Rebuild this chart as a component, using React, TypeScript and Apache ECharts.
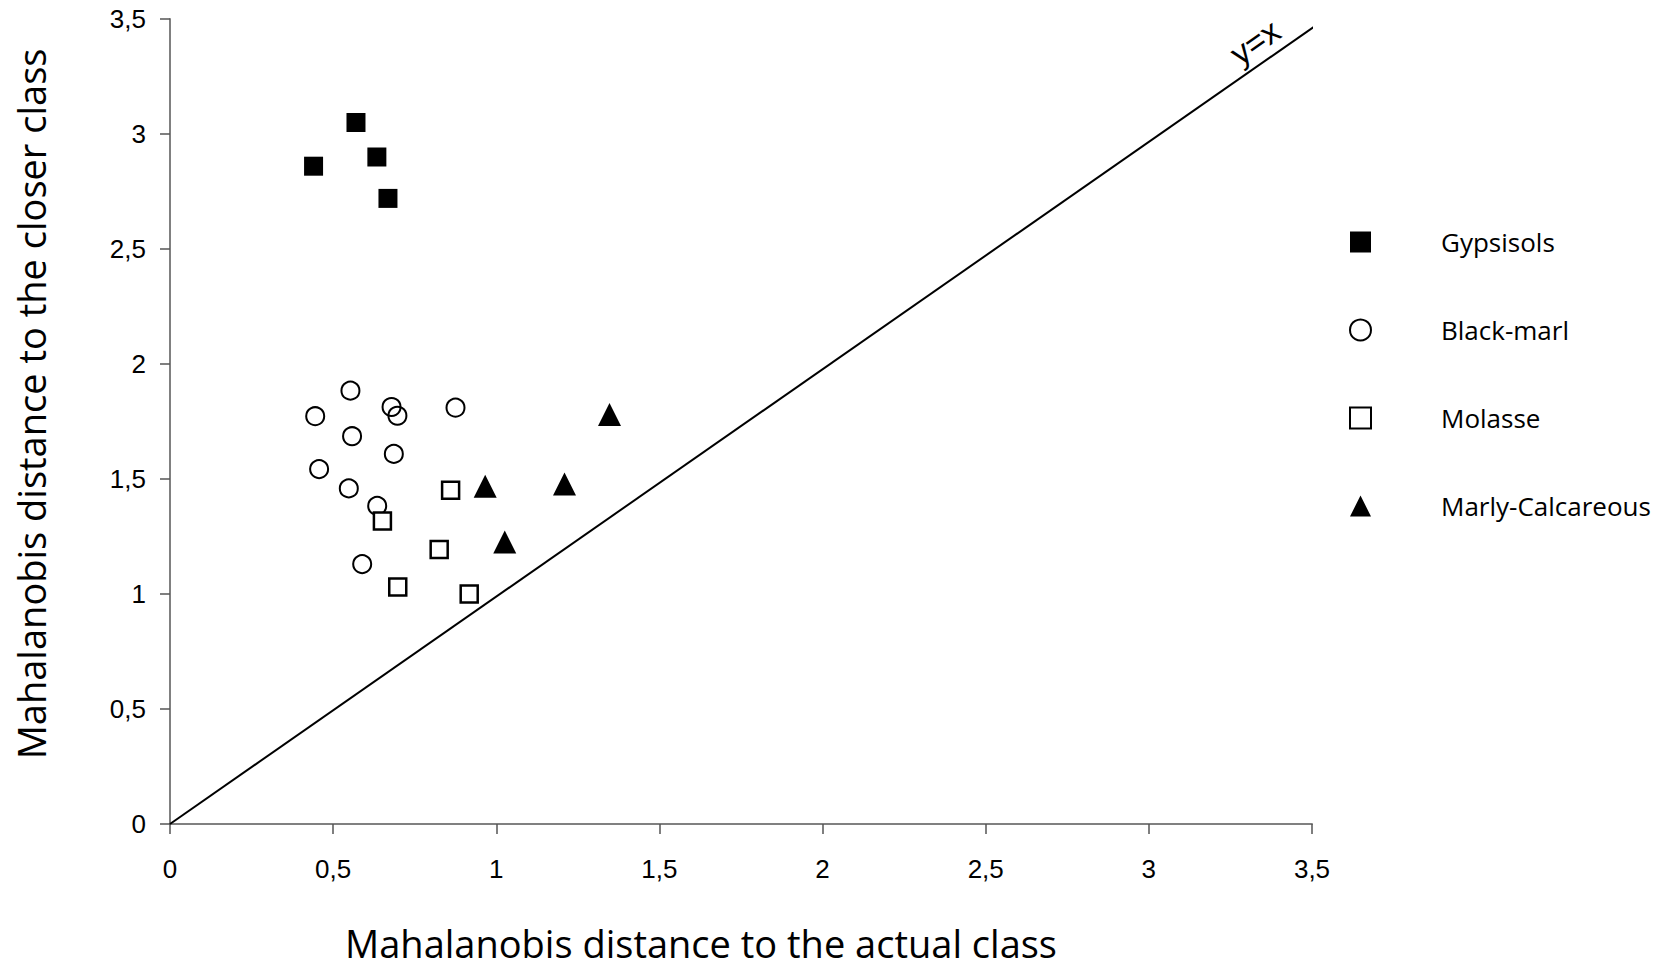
import { useEffect, useRef } from "react";
import * as echarts from "echarts";

// [actual class distance, closer class distance]
const gypsisols = [
  [0.44, 2.86],
  [0.57, 3.05],
  [0.634, 2.9],
  [0.668, 2.72],
];

const blackMarl = [
  [0.553, 1.884],
  [0.445, 1.773],
  [0.679, 1.813],
  [0.697, 1.775],
  [0.875, 1.81],
  [0.558, 1.686],
  [0.686, 1.609],
  [0.457, 1.543],
  [0.548, 1.459],
  [0.635, 1.383],
  [0.589, 1.13],
];

const molasse = [
  [0.86, 1.451],
  [0.651, 1.317],
  [0.825, 1.193],
  [0.698, 1.03],
  [0.917, 1.0],
];

const marlyCalcareous = [
  [0.966, 1.469],
  [1.209, 1.478],
  [1.026, 1.226],
  [1.347, 1.78],
];

const identityLine = [
  [0, 0],
  [3.515, 3.475],
];

const seriesNames = ["Gypsisols", "Black-marl", "Molasse", "Marly-Calcareous"];
const xTitle = "Mahalanobis distance to the actual class";
const yTitle = "Mahalanobis distance to the closer class";

const titleFont = "'Open Sans', sans-serif";
const tickFont = "'Liberation Sans', Arial, sans-serif";

export default function App() {
  const chartRef = useRef<HTMLDivElement>(null);

  useEffect(() => {
    document.body.style.margin = "0";
    if (!chartRef.current) return;
    const chart = echarts.init(chartRef.current, null, { renderer: "svg" });

    const axisCommon = {
      type: "value" as const,
      min: 0,
      max: 3.5,
      interval: 0.5,
      splitLine: { show: false },
      axisLine: { show: true, lineStyle: { color: "#808080", width: 2 } },
      axisTick: { show: true, inside: false, length: 10, lineStyle: { color: "#555", width: 1.5 } },
    };

    const fmt = (v: number) => String(v).replace(".", ",");

    const titleStyle = {
      fontFamily: titleFont,
      fontSize: 38,
      fill: "#000",
      align: "center",
      verticalAlign: "middle",
    };

    chart.setOption({
      animation: false,
      backgroundColor: "#fff",
      grid: {
        left: 170,
        right: 352,
        top: 19,
        bottom: 145,
        containLabel: false,
        outerBoundsMode: "none",
      },
      xAxis: {
        ...axisCommon,
        axisLabel: { formatter: fmt, fontFamily: tickFont, fontSize: 26, color: "#000", margin: 32 },
      },
      yAxis: {
        ...axisCommon,
        axisLabel: { formatter: fmt, fontFamily: tickFont, fontSize: 26, color: "#000", margin: 24 },
      },
      legend: {
        data: seriesNames,
        orient: "vertical",
        left: 1344,
        top: 224,
        itemWidth: 21,
        itemHeight: 21,
        itemGap: 62,
        textStyle: { fontFamily: titleFont, fontSize: 26, color: "#000", padding: [0, 0, 0, 65] },
      },
      graphic: [
        {
          type: "text",
          x: 701,
          y: 943,
          style: { ...titleStyle, text: xTitle },
        },
        {
          type: "text",
          x: 31,
          y: 404,
          rotation: Math.PI / 2,
          style: { ...titleStyle, text: yTitle },
        },
        {
          type: "text",
          x: 1255,
          y: 42,
          rotation: (35 * Math.PI) / 180,
          style: {
            text: "y=x",
            fontFamily: tickFont,
            fontSize: 33,
            fill: "#000",
            align: "center",
            verticalAlign: "middle",
          },
        },
      ],
      series: [
        {
          name: "identity",
          type: "line",
          data: identityLine,
          symbol: "none",
          clip: false,
          silent: true,
          lineStyle: { color: "#000", width: 2 },
          z: 1,
        },
        {
          name: seriesNames[0],
          type: "scatter",
          data: gypsisols,
          symbol: "rect",
          symbolSize: 19,
          itemStyle: { color: "#000", opacity: 1 },
          z: 3,
        },
        {
          name: seriesNames[1],
          type: "scatter",
          data: blackMarl,
          symbol: "circle",
          symbolSize: 18,
          itemStyle: { color: "rgba(255,255,255,0)", borderColor: "#000", borderWidth: 2, opacity: 1 },
          z: 3,
        },
        {
          name: seriesNames[2],
          type: "scatter",
          data: molasse,
          symbol: "rect",
          symbolSize: 17,
          itemStyle: { color: "#fff", borderColor: "#000", borderWidth: 2.5, opacity: 1 },
          z: 3,
        },
        {
          name: seriesNames[3],
          type: "scatter",
          data: marlyCalcareous,
          symbol: "triangle",
          symbolSize: 23,
          itemStyle: { color: "#000", opacity: 1 },
          z: 3,
        },
      ],
    });

    return () => {
      chart.dispose();
    };
  }, []);

  return <div ref={chartRef} style={{ width: "1664px", height: "969px" }} />;
}
